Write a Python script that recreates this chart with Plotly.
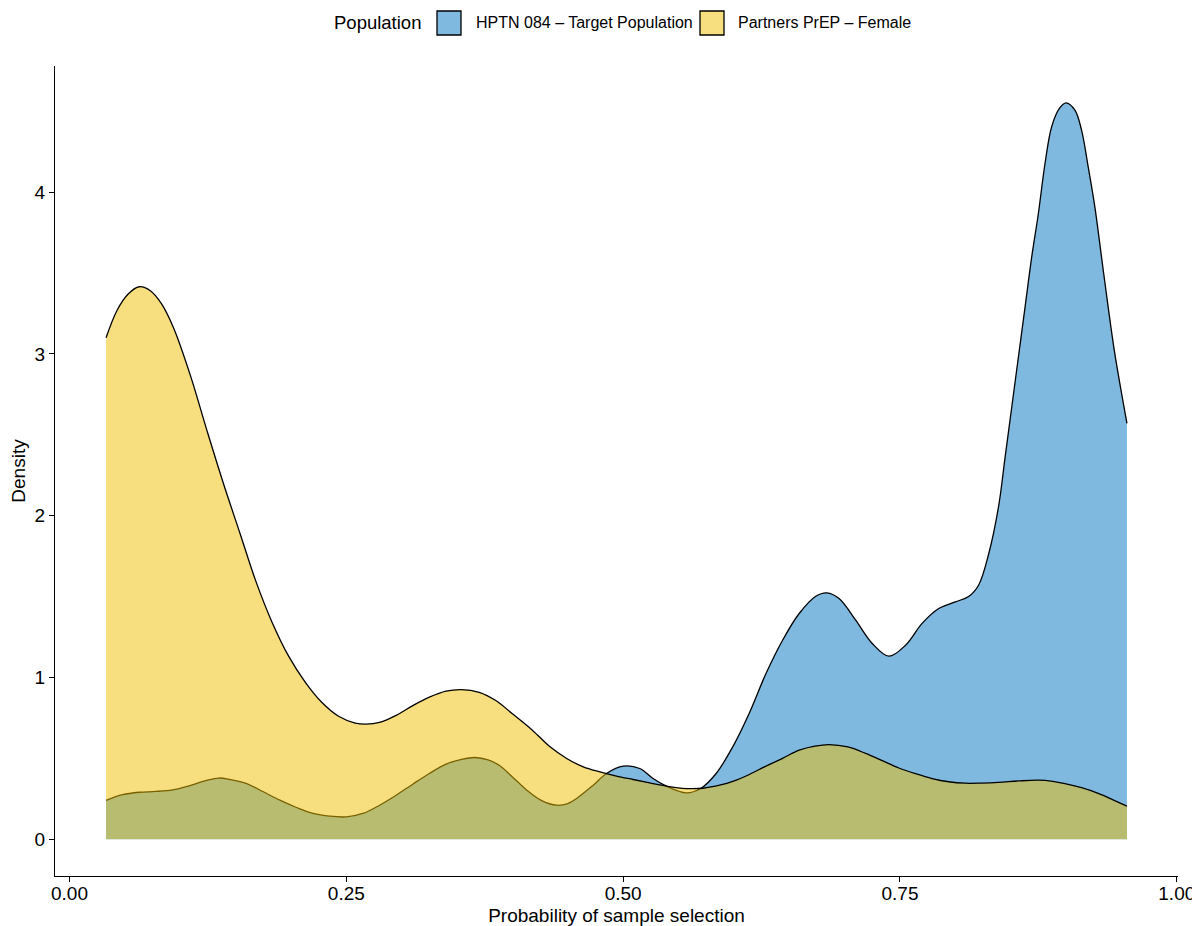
import plotly.graph_objects as go

# Kernel density estimates of the probability of sample selection
hptn_x = [0.033, 0.048, 0.063, 0.078, 0.093, 0.108, 0.123, 0.135, 0.145, 0.160,
          0.175, 0.190, 0.205, 0.220, 0.235, 0.250, 0.265, 0.280, 0.295, 0.310,
          0.325, 0.340, 0.355, 0.366, 0.378, 0.388, 0.400, 0.413, 0.426, 0.440,
          0.450, 0.458, 0.473, 0.485, 0.500, 0.515, 0.527, 0.539, 0.557, 0.570,
          0.584, 0.599, 0.614, 0.629, 0.644, 0.659, 0.674, 0.684, 0.695, 0.710,
          0.725, 0.740, 0.755, 0.770, 0.785, 0.800, 0.812, 0.821, 0.830, 0.839,
          0.845, 0.851, 0.857, 0.863, 0.869, 0.875, 0.881, 0.887, 0.894, 0.900,
          0.908, 0.914, 0.920, 0.926, 0.932, 0.938, 0.944, 0.955]
hptn_density = [0.240, 0.275, 0.290, 0.295, 0.305, 0.330, 0.362, 0.378, 0.369, 0.344,
                0.293, 0.241, 0.196, 0.159, 0.142, 0.138, 0.159, 0.210, 0.272, 0.340,
                0.406, 0.464, 0.495, 0.505, 0.490, 0.457, 0.385, 0.303, 0.240, 0.210,
                0.220, 0.252, 0.334, 0.406, 0.451, 0.437, 0.375, 0.328, 0.286, 0.313,
                0.406, 0.571, 0.780, 1.024, 1.230, 1.395, 1.502, 1.523, 1.488, 1.354,
                1.210, 1.131, 1.199, 1.334, 1.426, 1.467, 1.500, 1.570, 1.760, 2.054,
                2.363, 2.673, 2.982, 3.291, 3.600, 3.868, 4.177, 4.404, 4.517, 4.552,
                4.507, 4.383, 4.156, 3.909, 3.600, 3.291, 3.003, 2.570]

prep_x = [0.033, 0.043, 0.053, 0.063, 0.073, 0.083, 0.094, 0.109, 0.124, 0.139,
          0.154, 0.168, 0.183, 0.198, 0.213, 0.228, 0.243, 0.258, 0.268, 0.280,
          0.295, 0.310, 0.325, 0.340, 0.354, 0.370, 0.385, 0.400, 0.418, 0.434,
          0.449, 0.464, 0.479, 0.494, 0.509, 0.524, 0.539, 0.557, 0.572, 0.588,
          0.599, 0.614, 0.629, 0.644, 0.659, 0.673, 0.686, 0.703, 0.719, 0.734,
          0.749, 0.764, 0.779, 0.794, 0.809, 0.824, 0.839, 0.857, 0.875, 0.888,
          0.899, 0.914, 0.929, 0.942, 0.955]
prep_density = [3.100, 3.270, 3.370, 3.415, 3.390, 3.310, 3.160, 2.870, 2.529, 2.199,
                1.890, 1.600, 1.340, 1.130, 0.970, 0.845, 0.760, 0.718, 0.711, 0.722,
                0.765, 0.826, 0.878, 0.915, 0.925, 0.908, 0.857, 0.775, 0.674, 0.571,
                0.499, 0.447, 0.416, 0.390, 0.369, 0.348, 0.328, 0.313, 0.315, 0.335,
                0.357, 0.400, 0.452, 0.500, 0.550, 0.575, 0.585, 0.570, 0.530, 0.485,
                0.440, 0.405, 0.375, 0.355, 0.346, 0.347, 0.351, 0.360, 0.365, 0.358,
                0.344, 0.318, 0.283, 0.245, 0.204]

series_names = ["HPTN 084 \u2013 Target Population", "Partners PrEP \u2013 Female"]
fill_colors = ["rgba(0,115,194,0.5)", "rgba(239,192,0,0.5)"]
legend_title = "Population"

x_tick_vals = [0, 0.25, 0.5, 0.75, 1.0]
x_tick_text = ["0.00", "0.25", "0.50", "0.75", "1.00"]
y_tick_vals = [0, 1, 2, 3, 4]

FONT = "Liberation Sans, Arial, Helvetica, sans-serif"

fig = go.Figure()
for name, xs, ys, fc in [(series_names[0], hptn_x, hptn_density, fill_colors[0]),
                         (series_names[1], prep_x, prep_density, fill_colors[1])]:
    fig.add_trace(go.Scatter(
        x=xs, y=ys, name=name, mode="lines", fill="tozeroy",
        fillcolor=fc, line=dict(color="black", width=1.3, shape="spline", smoothing=1.0),
        showlegend=False, hoverinfo="x+y+name",
    ))

# plot area in pixels: x 55..1178, y 66..876
L, R, T, B = 55, 14, 66, 50
W, H = 1192, 926
pw, ph = W - L - R, H - T - B


def px_x(p):
    return (p - L) / pw


def px_y(p):
    return (H - B - p) / ph


# legend drawn above the panel: title, keys and labels
shapes = []
annotations = [dict(text=legend_title, x=px_x(332), y=px_y(23), xref="paper", yref="paper",
                    xanchor="left", yanchor="middle", showarrow=False,
                    font=dict(family=FONT, size=18.5, color="black"))]
key_boxes = [(437, 461, 474), (700, 724, 736)]
for (x0, x1, lx), name, fc in zip(key_boxes, series_names, fill_colors):
    shapes.append(dict(type="rect", xref="paper", yref="paper",
                       x0=px_x(x0), x1=px_x(x1), y0=px_y(35), y1=px_y(11),
                       fillcolor=fc, line=dict(color="black", width=1.3)))
    annotations.append(dict(text=name, x=px_x(lx), y=px_y(23), xref="paper", yref="paper",
                            xanchor="left", yanchor="middle", showarrow=False,
                            font=dict(family=FONT, size=16, color="black")))

fig.update_layout(
    width=W, height=H,
    margin=dict(l=L, r=R, t=T, b=B, pad=0, autoexpand=False),
    paper_bgcolor="white", plot_bgcolor="white",
    font=dict(family=FONT, color="black"),
    shapes=shapes, annotations=annotations,
    showlegend=False,
)
fig.update_xaxes(
    range=[-0.0131, 1.0011], tickvals=x_tick_vals, ticktext=x_tick_text,
    automargin=False, ticklabeloverflow="allow", ticklabelstandoff=-5,
    showline=True, linecolor="black", linewidth=1.3, mirror=False,
    ticks="outside", ticklen=5, tickwidth=1.3, tickcolor="black",
    showgrid=False, zeroline=False,
    tickfont=dict(family=FONT, size=19, color="black"),
    title=dict(text="Probability of sample selection", standoff=6,
               font=dict(family=FONT, size=19, color="black")),
)
fig.update_yaxes(
    range=[-0.2276, 4.7796], tickvals=y_tick_vals,
    automargin=False,
    showline=True, linecolor="black", linewidth=1.3, mirror=False,
    ticks="outside", ticklen=5, tickwidth=1.3, tickcolor="black",
    showgrid=False, zeroline=False,
    tickfont=dict(family=FONT, size=19, color="black"),
    title=dict(text="Density", standoff=3,
               font=dict(family=FONT, size=19, color="black")),
)

fig.write_html("out.html")
